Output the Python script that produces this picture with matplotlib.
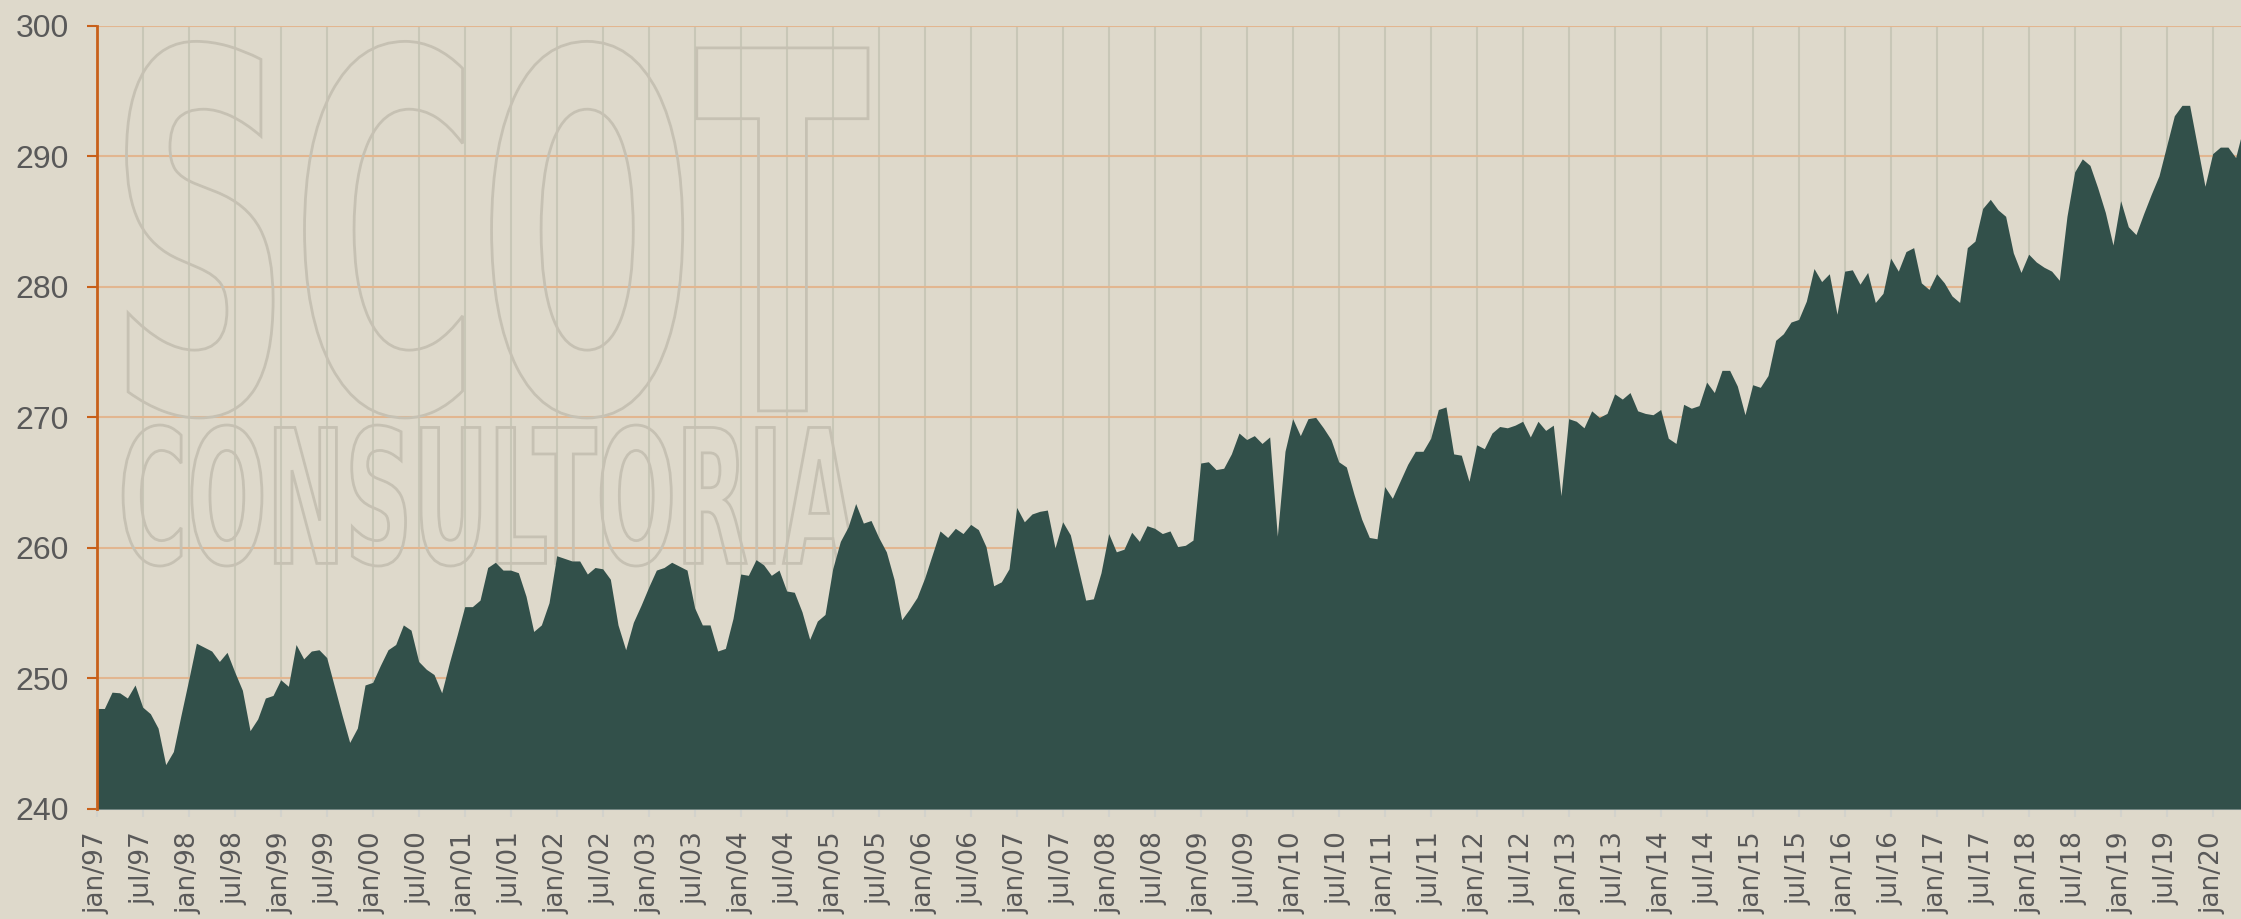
import matplotlib
matplotlib.use("Agg")
import matplotlib.pyplot as plt
import numpy as np
from matplotlib.textpath import TextPath
from matplotlib.patches import PathPatch
from matplotlib.font_manager import FontProperties
from matplotlib.transforms import Affine2D

# Monthly values, jan/97 .. may/20
values = [
    247.7, 247.7, 248.95, 248.9, 248.5, 249.5, 247.8, 247.3, 246.2, 243.4, 244.4, 247.2,  # 1997
    249.9, 252.7, 252.4, 252.1, 251.3, 252.0, 250.5, 249.1, 246.0, 246.9, 248.5, 248.7,  # 1998
    249.9, 249.4, 252.6, 251.5, 252.1, 252.2, 251.6, 249.4, 247.2, 245.1, 246.2, 249.5,  # 1999
    249.7, 251.0, 252.2, 252.6, 254.1, 253.7, 251.3, 250.7, 250.3, 248.9, 251.2, 253.3,  # 2000
    255.5, 255.5, 256.0, 258.5, 258.9, 258.3, 258.3, 258.1, 256.3, 253.6, 254.1, 255.8,  # 2001
    259.4, 259.2, 259.0, 259.0, 258.0, 258.5, 258.4, 257.6, 254.1, 252.2, 254.3, 255.6,  # 2002
    257.0, 258.3, 258.5, 258.9, 258.6, 258.3, 255.4, 254.1, 254.1, 252.1, 252.3, 254.6,  # 2003
    258.0, 257.9, 259.1, 258.7, 257.9, 258.3, 256.7, 256.6, 255.1, 253.0, 254.4, 254.9,  # 2004
    258.4, 260.5, 261.6, 263.4, 261.9, 262.1, 260.8, 259.7, 257.6, 254.5, 255.3, 256.2,  # 2005
    257.7, 259.5, 261.3, 260.8, 261.5, 261.1, 261.8, 261.4, 260.1, 257.1, 257.4, 258.4,  # 2006
    263.1, 262.0, 262.6, 262.8, 262.9, 260.0, 262.0, 261.0, 258.5, 256.0, 256.1, 258.1,  # 2007
    261.1, 259.7, 259.9, 261.2, 260.5, 261.7, 261.5, 261.1, 261.3, 260.1, 260.2, 260.6,  # 2008
    266.5, 266.6, 266.0, 266.1, 267.2, 268.8, 268.3, 268.6, 268.0, 268.5, 260.9, 267.4,  # 2009
    269.9, 268.6, 269.9, 270.0, 269.2, 268.3, 266.6, 266.2, 264.1, 262.2, 260.8, 260.7,  # 2010
    264.7, 263.8, 265.1, 266.4, 267.4, 267.4, 268.4, 270.6, 270.8, 267.2, 267.1, 265.1,  # 2011
    267.9, 267.6, 268.8, 269.3, 269.2, 269.4, 269.7, 268.5, 269.7, 269.0, 269.4, 264.0,  # 2012
    269.9, 269.7, 269.2, 270.5, 270.0, 270.3, 271.8, 271.4, 271.9, 270.5, 270.3, 270.2,  # 2013
    270.6, 268.4, 268.0, 271.0, 270.7, 270.9, 272.7, 271.9, 273.6, 273.6, 272.4, 270.2,  # 2014
    272.5, 272.3, 273.2, 275.9, 276.4, 277.3, 277.5, 278.9, 281.4, 280.4, 281.0, 277.9,  # 2015
    281.2, 281.3, 280.2, 281.1, 278.8, 279.5, 282.2, 281.2, 282.7, 283.0, 280.3, 279.8,  # 2016
    281.0, 280.3, 279.3, 278.8, 283.0, 283.5, 286.0, 286.7, 285.9, 285.4, 282.6, 281.1,  # 2017
    282.5, 281.9, 281.5, 281.2, 280.5, 285.4, 288.8, 289.8, 289.3, 287.6, 285.7, 283.2,  # 2018
    286.6, 284.6, 284.0, 285.6, 287.1, 288.5, 290.8, 293.1, 293.9, 293.9, 290.8, 287.7,  # 2019
    290.2, 290.7, 290.7, 289.9, 292.2,                                                    # 2020
]
start_year = 1997
end_year = 2020
y_ticks = [240, 250, 260, 270, 280, 290, 300]

bg = '#ded9cb'
fill_color = '#32504a'
orange = '#c8601a'

months = np.arange(len(values))
tick_pos = np.arange(0, (end_year - start_year) * 12 + 1, 6)
tick_labels = [f"{m}/{(start_year + i // 2) % 100:02d}" for i, m in
               enumerate(['jan', 'jul'] * (end_year - start_year + 1))][:len(tick_pos)]

fig = plt.figure(figsize=(22.41, 9.19), dpi=100, facecolor=bg)
ax = fig.add_axes([96.7 / 2241, 1 - 809 / 919, 2144.3 / 2241, 783.3 / 919])
ax.set_facecolor(bg)

# area
ax.fill_between(months, y_ticks[0], values, color=fill_color, lw=0, zorder=3)

ax.set_xlim(0, 279.7)
ax.set_ylim(y_ticks[0], y_ticks[-1])
ax.set_yticks(y_ticks)
ax.set_xticks(tick_pos)
ax.set_xticklabels(tick_labels, rotation=90, va='top', ha='center',
                   family=['Liberation Sans Narrow', 'DejaVu Sans'], fontsize=19, color='#595959')
ax.set_yticklabels([str(v) for v in y_ticks], family=['Liberation Sans', 'DejaVu Sans'],
                   fontsize=23, color='#595959')

# grid
for t in tick_pos:
    ax.axvline(t, color='#c8c7b7', lw=1.5, zorder=1)
for v in y_ticks:
    ax.axhline(v, color='#e2b690', lw=1.5, zorder=1)

# spines / ticks
for s in ['top', 'right']:
    ax.spines[s].set_visible(False)
ax.spines['left'].set_color(orange)
ax.spines['left'].set_linewidth(2)
ax.spines['left'].set_zorder(5)
ax.spines['bottom'].set_color('#b7c0bd')
ax.spines['bottom'].set_linewidth(1.5)
ax.tick_params(axis='y', colors=orange, length=7, width=1.5, pad=13, labelcolor='#595959')
ax.tick_params(axis='x', colors='#d2d2cc', length=6, width=1.5, pad=10, labelcolor='#595959')

# watermark
def watermark(text, box):
    tp = TextPath((0, 0), text, size=100,
                  prop=FontProperties(family='DejaVu Sans', weight='bold'))
    ext = tp.get_extents()
    x0, y0, x1, y1 = box
    tr = (Affine2D().translate(-ext.x0, -ext.y0)
          .scale((x1 - x0) / ext.width, (y1 - y0) / ext.height)
          .translate(x0, y0) + ax.transAxes)
    ax.add_patch(PathPatch(tp, transform=tr, facecolor='none', edgecolor='#c6c1b3',
                           lw=2, zorder=2))

watermark('SCOT', (0.0139, 0.4992, 0.3597, 0.980))
watermark('CONSULTORIA', (0.0123, 0.3102, 0.3536, 0.4902))

fig.savefig('out.png', dpi=100, facecolor=bg)
